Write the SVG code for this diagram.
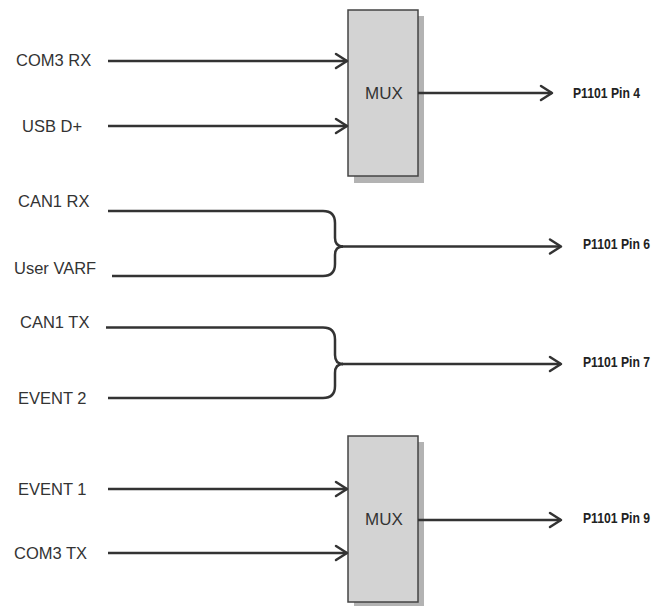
<svg xmlns="http://www.w3.org/2000/svg" width="670" height="606" viewBox="0 0 670 606">
<defs>
<style>
.lbl{font-family:"Liberation Sans",Arial,sans-serif;font-size:16.5px;fill:#333;}
.out{font-family:"Liberation Sans",Arial,sans-serif;font-size:15px;font-weight:bold;fill:#222;}
.mux{font-family:"Liberation Sans",Arial,sans-serif;font-size:17px;fill:#333;text-anchor:middle;}
.wire{fill:none;stroke:#333;stroke-width:2.5;}
.box{fill:#d3d3d3;stroke:#444;stroke-width:1.5;}
.shadow{fill:#b3b3b3;}
</style>
<marker id="arr" viewBox="-14 -10 16 20" refX="0" refY="0" markerWidth="16" markerHeight="20" markerUnits="userSpaceOnUse" orient="auto">
<polyline points="-11,-7 0,0 -11,7" fill="none" stroke="#333" stroke-width="2.5" stroke-linejoin="round" stroke-linecap="round"/>
</marker>
</defs>
<rect width="670" height="606" fill="#fff"/>
<g id="mux1">
<rect class="shadow" x="354" y="16" width="70" height="167"/>
<rect class="box" x="348" y="10" width="70" height="166"/>
<text class="mux" x="384" y="99">MUX</text>
</g>
<g id="mux2">
<rect class="shadow" x="354" y="442" width="70" height="167"/>
<rect class="box" x="348" y="436" width="70" height="166"/>
<text class="mux" x="384" y="525">MUX</text>
</g>
<g id="labels">
<text class="lbl" x="16" y="66">COM3 RX</text>
<text class="lbl" x="22" y="132">USB D+</text>
<text class="lbl" x="18" y="207">CAN1 RX</text>
<text class="lbl" x="14" y="274">User VARF</text>
<text class="lbl" x="20" y="328">CAN1 TX</text>
<text class="lbl" x="18" y="404">EVENT 2</text>
<text class="lbl" x="18" y="495">EVENT 1</text>
<text class="lbl" x="14" y="559">COM3 TX</text>
<text class="out" x="573" y="98" textLength="67" lengthAdjust="spacingAndGlyphs">P1101 Pin 4</text>
<text class="out" x="583" y="249" textLength="67" lengthAdjust="spacingAndGlyphs">P1101 Pin 6</text>
<text class="out" x="583" y="367" textLength="67" lengthAdjust="spacingAndGlyphs">P1101 Pin 7</text>
<text class="out" x="583" y="523" textLength="67" lengthAdjust="spacingAndGlyphs">P1101 Pin 9</text>
</g>
<g id="connectors">
<path class="wire" d="M108 61 H347" marker-end="url(#arr)"/>
<path class="wire" d="M108 126 H347" marker-end="url(#arr)"/>
<path class="wire" d="M418 93 H552" marker-end="url(#arr)"/>
<path class="wire" d="M108 211 H323 Q335 211 335 223 V238 Q335 246.5 343 246.5"/>
<path class="wire" d="M112 276 H323 Q335 276 335 264 V255 Q335 246.5 343 246.5"/>
<path class="wire" d="M342 246.5 H561" marker-end="url(#arr)"/>
<path class="wire" d="M106 327.5 H323 Q335 327.5 335 339.5 V355 Q335 364 343 364"/>
<path class="wire" d="M108 398 H323 Q335 398 335 386 V373 Q335 364 343 364"/>
<path class="wire" d="M342 364 H561" marker-end="url(#arr)"/>
<path class="wire" d="M108 489 H347" marker-end="url(#arr)"/>
<path class="wire" d="M108 553 H347" marker-end="url(#arr)"/>
<path class="wire" d="M418 520 H561" marker-end="url(#arr)"/>
</g>
</svg>
